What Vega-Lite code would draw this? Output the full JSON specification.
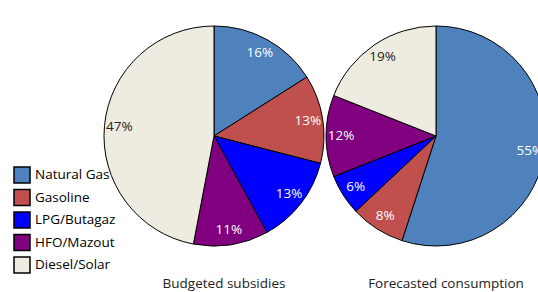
{
  "$schema": "https://vega.github.io/schema/vega-lite/v6.json",
  "width": 538,
  "height": 272,
  "autosize": {"type": "none"},
  "padding": {"left": 0, "top": 0, "right": 0, "bottom": 20},
  "background": "white",
  "config": {"view": {"stroke": null}, "font": "Open Sans"},
  "datasets": {
    "pies": [
      {"chart": "Budgeted subsidies", "fuel": "Natural Gas", "value": 0.16, "rank": 1},
      {"chart": "Budgeted subsidies", "fuel": "Gasoline", "value": 0.13, "rank": 2},
      {"chart": "Budgeted subsidies", "fuel": "LPG/Butagaz", "value": 0.13, "rank": 3},
      {"chart": "Budgeted subsidies", "fuel": "HFO/Mazout", "value": 0.11, "rank": 4},
      {"chart": "Budgeted subsidies", "fuel": "Diesel/Solar", "value": 0.47, "rank": 5},
      {"chart": "Forecasted consumption", "fuel": "Natural Gas", "value": 0.55, "rank": 1},
      {"chart": "Forecasted consumption", "fuel": "Gasoline", "value": 0.08, "rank": 2},
      {"chart": "Forecasted consumption", "fuel": "LPG/Butagaz", "value": 0.06, "rank": 3},
      {"chart": "Forecasted consumption", "fuel": "HFO/Mazout", "value": 0.12, "rank": 4},
      {"chart": "Forecasted consumption", "fuel": "Diesel/Solar", "value": 0.19, "rank": 5}
    ],
    "titles": [
      {"chart": "Budgeted subsidies"},
      {"chart": "Forecasted consumption"}
    ]
  },
  "layer": [
    {
      "data": {"name": "pies"},
      "transform": [{"filter": "datum.chart === 'Budgeted subsidies'"}],
      "layer": [
        {
          "mark": {"type": "arc", "radius": 110, "stroke": "black", "strokeWidth": 1},
          "encoding": {
            "x": {"field": "chart", "type": "nominal", "scale": {"type": "point", "padding": 0, "domain": ["Budgeted subsidies", "Forecasted consumption"], "range": [214, 436]}, "axis": null},
            "theta": {"field": "value", "type": "quantitative", "stack": true},
            "order": {"field": "rank", "type": "quantitative", "sort": "ascending"},
            "color": {
              "field": "fuel", "type": "nominal",
              "scale": {"domain": ["Natural Gas", "Gasoline", "LPG/Butagaz", "HFO/Mazout", "Diesel/Solar"], "range": ["#4F81BD", "#C0504D", "#0000FF", "#800080", "#EEECE1"]},
              "legend": {"orient": "none", "legendX": 13, "legendY": 166, "title": null, "padding": 0, "symbolType": "square", "symbolSize": 256, "symbolStrokeColor": "black", "symbolStrokeWidth": 1.5, "symbolOpacity": 1, "labelFont": "Open Sans", "labelFontSize": 13.5, "labelColor": "black", "labelOffset": 4, "rowPadding": 0.5}
            }
          }
        },
        {
          "mark": {"type": "text", "radius": 95, "fontSize": 13.5, "font": "Open Sans", "align": "center", "baseline": "middle"},
          "encoding": {
            "x": {"field": "chart", "type": "nominal", "scale": {"type": "point", "padding": 0, "domain": ["Budgeted subsidies", "Forecasted consumption"], "range": [214, 436]}, "axis": null},
            "theta": {"field": "value", "type": "quantitative", "stack": true},
            "order": {"field": "rank", "type": "quantitative", "sort": "ascending"},
            "text": {"field": "value", "type": "quantitative", "format": ".0%"},
            "color": {"condition": {"test": "datum.fuel === 'Diesel/Solar'", "value": "#222222"}, "value": "white"}
          }
        }
      ]
    },
    {
      "data": {"name": "pies"},
      "transform": [{"filter": "datum.chart === 'Forecasted consumption'"}],
      "layer": [
        {
          "mark": {"type": "arc", "radius": 110, "stroke": "black", "strokeWidth": 1},
          "encoding": {
            "x": {"field": "chart", "type": "nominal", "scale": {"type": "point", "padding": 0, "domain": ["Budgeted subsidies", "Forecasted consumption"], "range": [214, 436]}, "axis": null},
            "theta": {"field": "value", "type": "quantitative", "stack": true},
            "order": {"field": "rank", "type": "quantitative", "sort": "ascending"},
            "color": {"field": "fuel", "type": "nominal"}
          }
        },
        {
          "mark": {"type": "text", "radius": 95, "fontSize": 13.5, "font": "Open Sans", "align": "center", "baseline": "middle"},
          "encoding": {
            "x": {"field": "chart", "type": "nominal", "scale": {"type": "point", "padding": 0, "domain": ["Budgeted subsidies", "Forecasted consumption"], "range": [214, 436]}, "axis": null},
            "theta": {"field": "value", "type": "quantitative", "stack": true},
            "order": {"field": "rank", "type": "quantitative", "sort": "ascending"},
            "text": {"field": "value", "type": "quantitative", "format": ".0%"},
            "color": {"condition": {"test": "datum.fuel === 'Diesel/Solar'", "value": "#222222"}, "value": "white"}
          }
        }
      ]
    },
    {
      "data": {"name": "titles"},
      "mark": {"type": "text", "fontSize": 13.5, "font": "Open Sans", "align": "center", "baseline": "middle", "dx": 10, "dy": 12, "color": "#222222"},
      "encoding": {
        "x": {"field": "chart", "type": "nominal", "scale": {"type": "point", "padding": 0, "domain": ["Budgeted subsidies", "Forecasted consumption"], "range": [214, 436]}, "axis": null},
        "y": {"value": "height"},
        "text": {"field": "chart", "type": "nominal"}
      }
    }
  ]
}
